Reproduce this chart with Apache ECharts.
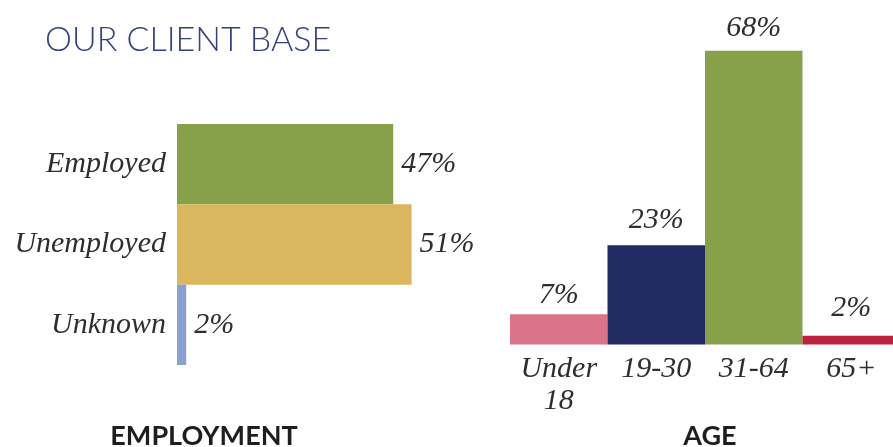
<!DOCTYPE html>
<html>
<head>
<meta charset="utf-8">
<script src="https://cdn.jsdelivr.net/npm/echarts@6/dist/echarts.min.js"></script>
<style>html,body{margin:0;padding:0;background:#fff}#c{width:893px;height:447px}</style>
</head>
<body>
<div id="c"></div>
<script>
// Data
var employmentCategories = ['Employed', 'Unemployed', 'Unknown'];
var employmentValues = [47, 51, 2];
var ageCategories = ['Under 18', '19-30', '31-64', '65+'];
var ageValues = [7, 23, 68, 2];

// Styles
var employmentColors = ['#87a04a', '#dab75e', '#8ba0d2'];
var ageColors = ['#dc7489', '#212c64', '#87a04a', '#be213f'];
var ageLabelDistances = [4, 10, 8, 13];
var serif = 'Liberation Serif';
var labelColor = '#2e2e2e';

var chart = echarts.init(document.getElementById('c'), null, {renderer: 'canvas'});
chart.setOption({
  animation: false,
  backgroundColor: '#ffffff',
  title: [
    {text: 'OUR CLIENT BASE', left: 40, top: 18,
     textStyle: {fontFamily: 'Lato', fontWeight: 300, fontSize: 34, color: '#34427a'}},
    {text: 'EMPLOYMENT', left: 199, top: 418, textAlign: 'center',
     textStyle: {fontFamily: 'Lato', fontWeight: 'bold', fontSize: 27, color: '#1e1e1e'}},
    {text: 'AGE', left: 705, top: 418, textAlign: 'center',
     textStyle: {fontFamily: 'Lato', fontWeight: 'bold', fontSize: 27, color: '#1e1e1e'}}
  ],
  grid: [
    {left: 177, top: 124, width: 276, height: 241, containLabel: false, outerBoundsMode: 'none'},
    {left: 510, top: 20.5, width: 390, height: 324, containLabel: false, outerBoundsMode: 'none'}
  ],
  xAxis: [
    {type: 'value', gridIndex: 0, min: 0, max: 60, show: false},
    {type: 'category', gridIndex: 1, data: ageCategories,
     axisLine: {show: false}, axisTick: {show: false}, splitLine: {show: false},
     axisLabel: {interval: 0, margin: 9, fontFamily: serif, fontStyle: 'italic', fontSize: 30, lineHeight: 32, color: labelColor,
       formatter: function (v) { return v.replace(' ', '\n'); }}}
  ],
  yAxis: [
    {type: 'category', gridIndex: 0, data: employmentCategories, inverse: true,
     axisLine: {show: false}, axisTick: {show: false}, splitLine: {show: false},
     axisLabel: {margin: 11, fontFamily: serif, fontStyle: 'italic', fontSize: 30, color: labelColor}},
    {type: 'value', gridIndex: 1, min: 0, max: 75, show: false}
  ],
  series: [
    {type: 'bar', xAxisIndex: 0, yAxisIndex: 0, barCategoryGap: 0,
     data: employmentValues.map(function (v, i) { return {value: v, itemStyle: {color: employmentColors[i]}}; }),
     label: {show: true, position: 'right', distance: 8, formatter: '{c}%',
       fontFamily: serif, fontStyle: 'italic', fontSize: 30, color: labelColor}},
    {type: 'bar', xAxisIndex: 1, yAxisIndex: 1, barCategoryGap: 0,
     data: ageValues.map(function (v, i) { return {value: v, itemStyle: {color: ageColors[i]}, label: {distance: ageLabelDistances[i]}}; }),
     label: {show: true, position: 'top', formatter: '{c}%',
       fontFamily: serif, fontStyle: 'italic', fontSize: 30, color: labelColor}}
  ]
});
</script>
</body>
</html>
